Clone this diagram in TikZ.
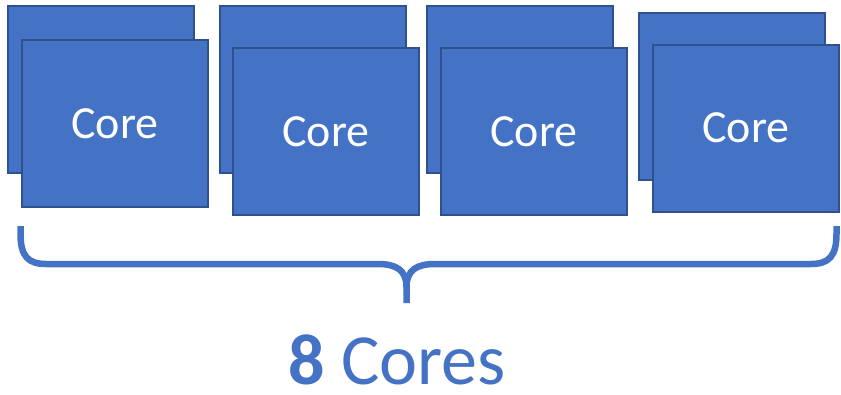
\documentclass[tikz,border=0pt]{standalone}
\usepackage{fontspec}
\setmainfont{Carlito}
\definecolor{corefill}{HTML}{4472C4}
\definecolor{coreedge}{HTML}{2F528F}
\tikzset{
  corebox/.style={draw=coreedge, fill=corefill, line width=2pt, minimum width=186pt, minimum height=167pt, inner sep=0pt, text=white, font=\fontsize{46}{46}\selectfont},
  bracestyle/.style={draw=corefill, line width=6.5pt, line cap=butt}
}
\begin{document}
\begin{tikzpicture}[x=1pt,y=-1pt]
\useasboundingbox (0,0) rectangle (841,394);
% pair 1
\node[corebox] (b1) at (101,89.5) {};
\node[corebox] (f1) at (115,123.5) {Core};
% pair 2
\node[corebox] (b2) at (312.5,89.5) {};
\node[corebox] (f2) at (326,131.5) {Core};
% pair 3
\node[corebox] (b3) at (520,89.5) {};
\node[corebox] (f3) at (534,131.5) {Core};
% pair 4
\node[corebox] (b4) at (732,96.5) {};
\node[corebox] (f4) at (746,128) {Core};
% brace
\coordinate (bl) at (20.5,226);
\coordinate (br) at (836.5,226);
\coordinate (bt) at (406.5,303);
\path[bracestyle] (bl) -- (20.5,234) .. controls (20.5,256) and (28,264) .. (46,264) -- (378,264) .. controls (396,264) and (406.5,270) .. (406.5,287) -- (bt);
\path[bracestyle] (br) -- (836.5,234) .. controls (836.5,256) and (829,264) .. (811,264) -- (435,264) .. controls (417,264) and (406.5,270) .. (406.5,287);
% label
\node[anchor=base, text=corefill, font=\fontsize{72}{72}\selectfont, inner sep=0pt] (lbl) at (397,384) {\textbf{8} Cores};
\end{tikzpicture}
\end{document}
